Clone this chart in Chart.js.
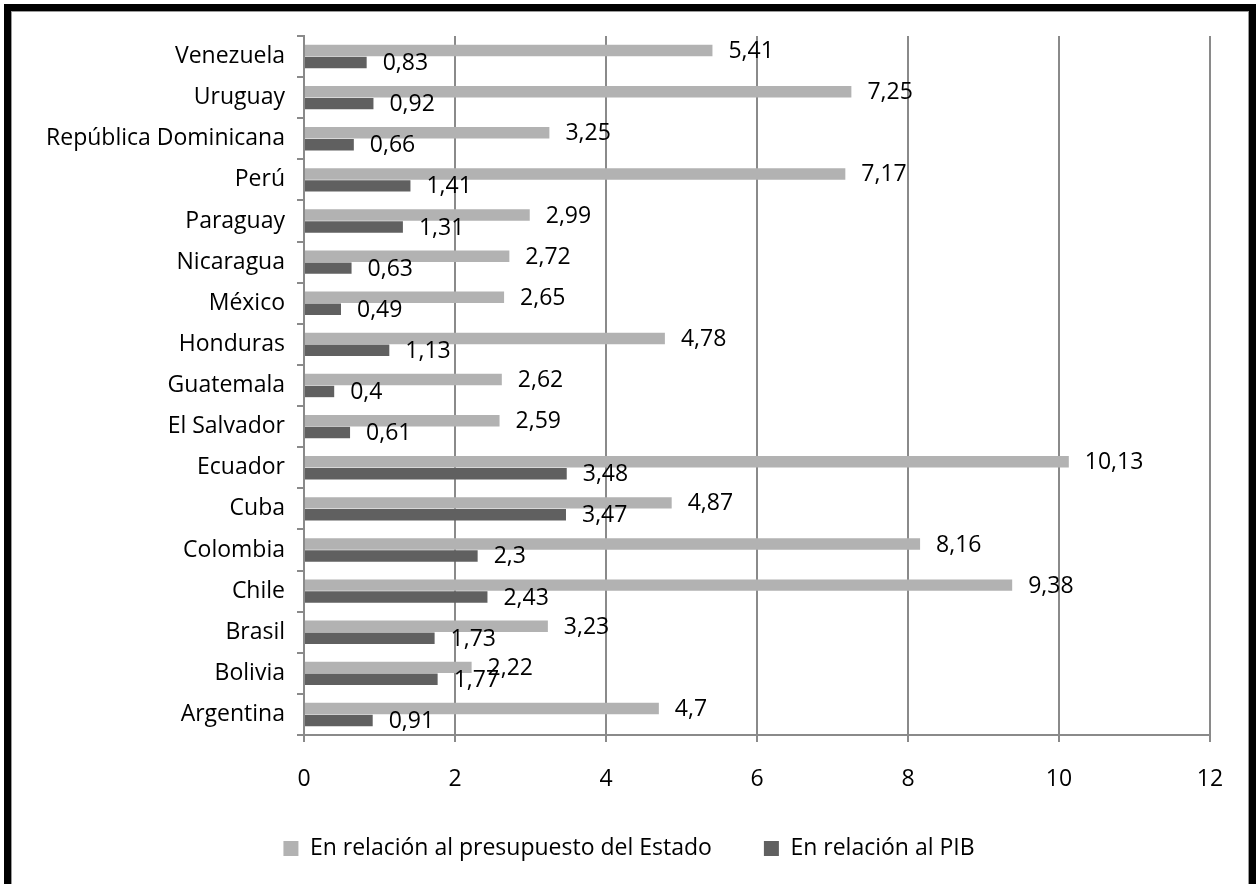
<!DOCTYPE html>
<html>
<head>
<meta charset="utf-8">
<script src="https://cdn.jsdelivr.net/npm/chart.js@4/dist/chart.umd.min.js"></script>
<style>
  html, body { margin: 0; padding: 0; background: #fff; overflow: hidden; }
  #wrap { position: relative; width: 1257px; height: 884px; }
  #frame {
    position: absolute; left: 4px; top: 4px; width: 1238px; height: 900px;
    border: 7px solid #000; box-shadow: inset 0 0 0 1px #9a9a9a; pointer-events: none;
  }
</style>
</head>
<body>
<div id="wrap">
  <canvas id="grafico" width="1257" height="884"></canvas>
  <div id="frame"></div>
</div>
<script>
const paises = ["Venezuela", "Uruguay", "República Dominicana", "Perú", "Paraguay", "Nicaragua",
    "México", "Honduras", "Guatemala", "El Salvador", "Ecuador", "Cuba", "Colombia", "Chile",
    "Brasil", "Bolivia", "Argentina"];
const presupuesto = [5.41, 7.25, 3.25, 7.17, 2.99, 2.72, 2.65, 4.78, 2.62, 2.59, 10.13, 4.87, 8.16, 9.38, 3.23, 2.22, 4.7];
const pib = [0.83, 0.92, 0.66, 1.41, 1.31, 0.63, 0.49, 1.13, 0.4, 0.61, 3.48, 3.47, 2.3, 2.43, 1.73, 1.77, 0.91];
const ejeX = [0, 2, 4, 6, 8, 10, 12];

const fuente = "'Open Sans', sans-serif";
const tam = 23;
const coma = v => String(v).replace('.', ',');

// etiquetas de valor a la derecha de cada barra
const etiquetas = {
    id: 'etiquetas',
    afterDatasetsDraw(chart) {
        const ctx = chart.ctx;
        ctx.save();
        ctx.font = tam + 'px ' + fuente;
        ctx.fillStyle = '#000';
        ctx.textAlign = 'left';
        ctx.textBaseline = 'middle';
        chart.data.datasets.forEach((ds, i) => {
            chart.getDatasetMeta(i).data.forEach((bar, j) => {
                ctx.fillText(coma(ds.data[j]), bar.x + 16, bar.y + 1);
            });
        });
        ctx.restore();
    }
};

// mueve la leyenda: un poco mas arriba y a la derecha
const moverLeyenda = {
    id: 'moverLeyenda',
    afterLayout(chart) {
        const l = chart.legend;
        l.top -= 14;
        l.bottom -= 14;
        l.left += 24;
        l.right += 24;
    }
};

const ctx = document.getElementById('grafico').getContext('2d');
new Chart(ctx, {
    type: 'bar',
    data: {
        labels: paises,
        datasets: [
            {
                label: 'En relación al presupuesto del Estado',
                data: presupuesto,
                backgroundColor: '#b2b2b2'
            },
            {
                label: 'En relación al PIB',
                data: pib,
                backgroundColor: '#606060'
            }
        ]
    },
    options: {
        indexAxis: 'y',
        responsive: false,
        animation: false,
        layout: { padding: { top: 36, right: 47, bottom: 0, left: 0 } },
        datasets: {
            bar: { categoryPercentage: 0.58, barPercentage: 0.96 }
        },
        scales: {
            x: {
                min: ejeX[0],
                max: ejeX[ejeX.length - 1],
                afterBuildTicks: s => { s.ticks = ejeX.map(v => ({ value: v })); },
                afterFit: s => { s.height = 64; },
                grid: { color: '#8a8a8a', lineWidth: 2, tickLength: 7 },
                border: { color: '#8a8a8a', width: 2 },
                ticks: { color: '#000', padding: 24, font: { family: fuente, size: tam } }
            },
            y: {
                afterFit: s => { s.width = 304; },
                grid: { drawOnChartArea: false, color: '#8a8a8a', lineWidth: 2, tickLength: 7 },
                border: { color: '#8a8a8a', width: 2 },
                ticks: { color: '#000', padding: 12, font: { family: fuente, size: tam } }
            }
        },
        plugins: {
            legend: {
                position: 'bottom',
                labels: {
                    color: '#000',
                    boxWidth: 15,
                    boxHeight: 15,
                    padding: 52,
                    font: { family: fuente, size: tam }
                }
            },
            tooltip: { enabled: false }
        }
    },
    plugins: [etiquetas, moverLeyenda]
});
</script>
</body>
</html>
